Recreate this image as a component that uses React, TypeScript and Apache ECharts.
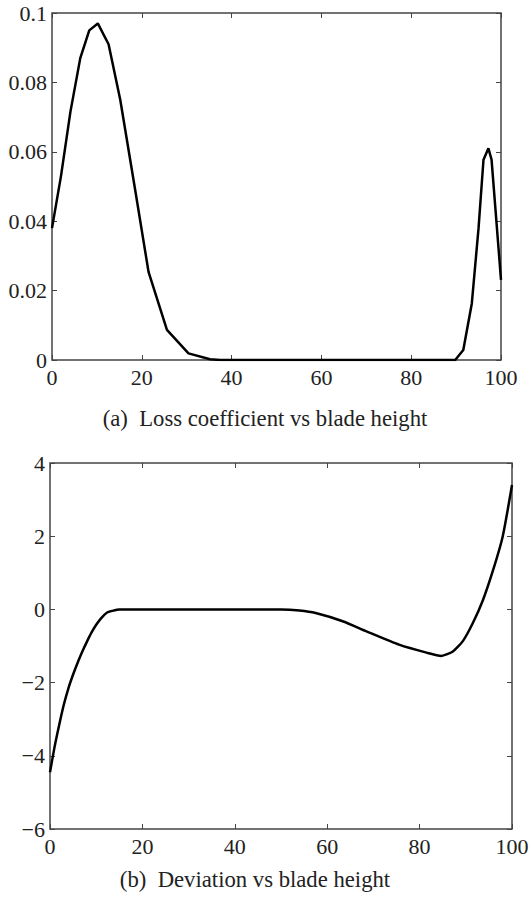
import React, { useEffect, useRef } from "react";
import * as echarts from "echarts";

// (a) Loss coefficient vs blade height
const lossX = [0, 2, 4.1, 6.3, 8.3, 10.2, 12.6, 15.2, 18.4, 21.5, 25.6, 30.4, 35.2, 37.5, 50, 70, 89.8, 91.6, 93.5, 95, 96.1, 97.2, 97.9, 100];
const lossY = [0.038, 0.053, 0.0715, 0.087, 0.095, 0.097, 0.091, 0.075, 0.05, 0.0254, 0.0087, 0.0019, 0.0002, 0, 0, 0, 0, 0.0029, 0.0163, 0.038, 0.0577, 0.061, 0.0577, 0.0231];

// (b) Deviation vs blade height
const devX = [0, 1, 2, 3, 4, 5, 6, 7, 8, 9, 10, 11, 12.3, 13.5, 15, 30, 50, 54, 57.5, 63.5, 68.5, 75.7, 81.5, 84.7, 87.2, 89.4, 91.5, 93.7, 95.9, 98, 100];
const devY = [-4.45, -3.75, -3.15, -2.6, -2.15, -1.78, -1.45, -1.15, -0.88, -0.63, -0.42, -0.25, -0.09, -0.04, 0, 0, 0, -0.03, -0.1, -0.33, -0.6, -0.97, -1.18, -1.27, -1.15, -0.86, -0.38, 0.25, 1.07, 2.0, 3.4];

const captionA = "(a)  Loss coefficient vs blade height";
const captionB = "(b)  Deviation vs blade height";

const FONT = "Liberation Serif";
const FRAME = "#444";
const TXT = "#222";

export default function App() {
  const ref = useRef<HTMLDivElement>(null);
  useEffect(() => {
    document.body.style.margin = "0";
    const chart = echarts.init(ref.current!, null, { renderer: "svg" });
    const label = (show: boolean, margin: number, fmt?: (v: number) => string) => ({
      show,
      margin,
      fontFamily: FONT,
      fontSize: 22,
      color: TXT,
      formatter: fmt,
    });
    const tick = { show: true, inside: true, length: 5, lineStyle: { color: FRAME, width: 1 } };
    const xAx = (grid: number, pos: "bottom" | "top", show: boolean) => ({
      type: "value",
      gridIndex: grid,
      position: pos,
      min: 0,
      max: 100,
      interval: 20,
      axisLine: { show: false, onZero: false },
      axisTick: tick,
      splitLine: { show: false },
      axisLabel: label(show, 6, (v: number) => String(v)),
    });
    const fmtLoss = (v: number) => String(+v.toFixed(2));
    const fmtDev = (v: number) => (v < 0 ? "\u2212" + String(-v) : String(v));
    const yAx = (grid: number, pos: "left" | "right", show: boolean, min: number, max: number, interval: number, fmt: (v: number) => string) => ({
      type: "value",
      gridIndex: grid,
      position: pos,
      min,
      max,
      interval,
      axisLine: { show: false, onZero: false },
      axisTick: tick,
      splitLine: { show: false },
      axisLabel: label(show, 5, fmt),
    });
    chart.setOption({
      animation: false,
      grid: [
        { left: 52, top: 13, width: 449, height: 347, show: true, borderColor: FRAME, borderWidth: 1.5, backgroundColor: "transparent" },
        { left: 50, top: 463, width: 462, height: 366, show: true, borderColor: FRAME, borderWidth: 1.5, backgroundColor: "transparent" },
      ],
      xAxis: [xAx(0, "bottom", true), xAx(0, "top", false), xAx(1, "bottom", true), xAx(1, "top", false)],
      yAxis: [
        yAx(0, "left", true, 0, 0.1, 0.02, fmtLoss),
        yAx(0, "right", false, 0, 0.1, 0.02, fmtLoss),
        yAx(1, "left", true, -6, 4, 2, fmtDev),
        yAx(1, "right", false, -6, 4, 2, fmtDev),
      ],
      series: [
        {
          type: "line",
          xAxisIndex: 0,
          yAxisIndex: 0,
          data: lossX.map((x, i) => [x, lossY[i]]),
          showSymbol: false,
          lineStyle: { color: "#000", width: 2.5 },
        },
        {
          type: "line",
          xAxisIndex: 2,
          yAxisIndex: 2,
          data: devX.map((x, i) => [x, devY[i]]),
          showSymbol: false,
          smooth: 0.2,
          lineStyle: { color: "#000", width: 2.5 },
        },
      ],
      graphic: [
        {
          type: "text",
          x: 265,
          y: 418,
          style: { text: captionA, fontFamily: FONT, fontSize: 22.7, fill: TXT, textAlign: "center", textVerticalAlign: "middle" },
        },
        {
          type: "text",
          x: 255,
          y: 879,
          style: { text: captionB, fontFamily: FONT, fontSize: 22.7, fill: TXT, textAlign: "center", textVerticalAlign: "middle" },
        },
      ],
    });
    return () => chart.dispose();
  }, []);
  return <div ref={ref} style={{ width: 532, height: 898 }} />;
}
